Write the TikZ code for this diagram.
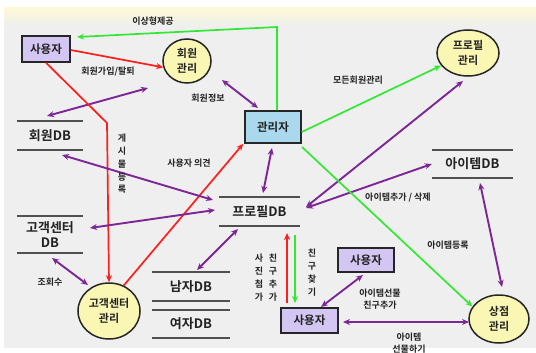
\documentclass[tikz,border=0pt]{standalone}
\usepackage{fontspec}
\setmainfont{Noto Sans CJK KR}[BoldFont={Noto Sans CJK KR Bold}]
\usetikzlibrary{shapes.geometric,arrows.meta}
\definecolor{bgc}{RGB}{239,239,239}
\definecolor{bandc}{RGB}{252,249,214}
\definecolor{pur}{RGB}{125,38,150}
\definecolor{rd}{RGB}{255,30,30}
\definecolor{gr}{RGB}{50,232,50}
\definecolor{lav}{RGB}{212,198,242}
\definecolor{yel}{RGB}{250,246,180}
\definecolor{admc}{RGB}{170,216,236}
\definecolor{txt}{RGB}{34,34,34}
\definecolor{dbl}{RGB}{80,80,80}
\tikzset{
  tip/.style={-{Stealth[length=7pt,width=6pt]}},
  dtip/.style={{Stealth[length=7pt,width=6pt]}-{Stealth[length=7pt,width=6pt]}},
  parrow/.style={draw=pur,line width=1.9pt,dtip},
  rarrow/.style={draw=rd,line width=1.7pt,tip},
  garrow/.style={draw=gr,line width=1.7pt,tip},
  userbox/.style={draw=black!85,line width=1.5pt,fill=lav,rectangle,font=\bfseries\fontsize{11.5}{14}\selectfont,text=txt},
  admbox/.style={draw=black!85,line width=1.5pt,fill=admc,rectangle,font=\bfseries\fontsize{11.5}{14}\selectfont,text=txt},
  proc/.style={draw=black!85,line width=1.5pt,fill=yel,ellipse,inner sep=0pt,align=center,font=\bfseries\fontsize{11}{15}\selectfont,text=txt},
  dbnode/.style={inner sep=0pt,align=center,font=\bfseries\fontsize{13}{15}\selectfont,text=txt},
  dbline/.style={draw=dbl,line width=1.5pt},
  lbl/.style={inner sep=0pt,align=center,font=\bfseries\fontsize{9}{12}\selectfont,text=txt},
  vlbl/.style={inner sep=0pt,align=center,font=\bfseries\fontsize{9}{12.8}\selectfont,text=txt,anchor=north},
}
\begin{document}
\begin{tikzpicture}[x=1pt,y=-1pt]
\useasboundingbox (0,0) rectangle (536,353);
\fill[white] (0,0) rectangle (536,353);
\fill[bgc] (4,8) rectangle (536,348);
\shade[top color=bandc,bottom color=bgc] (4,8) rectangle (536,26);

% nodes
\node[userbox,minimum width=48pt,minimum height=26pt] (u1) at (46,49) {사용자};
\node[proc,minimum width=48pt,minimum height=44pt] (hm) at (187,61) {회원\\관리};
\node[admbox,minimum width=56pt,minimum height=32pt] (adm) at (273,127) {관리자};
\node[proc,minimum width=62pt,minimum height=46pt] (pm) at (468,53) {프로필\\관리};
\node[dbnode,minimum width=66pt,minimum height=29pt] (mdb) at (50,135.5) {회원DB};
\node[dbnode,minimum width=66pt,minimum height=37pt] (gdb) at (50,234.5) {고객센터\\DB};
\node[dbnode,minimum width=81pt,minimum height=29pt] (pdb) at (259.5,211.5) {프로필DB};
\node[dbnode,minimum width=81pt,minimum height=28pt] (idb) at (472.5,164) {아이템DB};
\node[dbnode,minimum width=78pt,minimum height=29pt] (ndb) at (191,286.5) {남자DB};
\node[dbnode,minimum width=78pt,minimum height=28pt] (wdb) at (191,324) {여자DB};
\node[proc,minimum width=62pt,minimum height=56pt] (gm) at (109,311) {고객센터\\관리};
\node[proc,minimum width=60pt,minimum height=48pt] (sm) at (499,319) {상점\\관리};
\node[userbox,minimum width=56pt,minimum height=24pt] (u2) at (366,260) {사용자};
\node[userbox,minimum width=57pt,minimum height=25pt] (u3) at (309.5,320.5) {사용자};

% DB lines
\foreach \n in {mdb,gdb,pdb,idb,ndb,wdb}{
  \draw[dbline] (\n.north west) -- (\n.north east);
  \draw[dbline] (\n.south west) -- (\n.south east);
}

% free connector ends
\coordinate (gtop) at (277,27);
\coordinate (gend) at (77,37);
\coordinate (p3a) at (148,88);
\coordinate (p3b) at (47,116);
\coordinate (rbend) at (107,123);
\coordinate (p5a) at (222,80);
\coordinate (p5b) at (258,108);
\coordinate (p7a) at (306,207);
\coordinate (p7b) at (463,81);
\coordinate (p8a) at (306,208);
\coordinate (g9a) at (302,147);
\coordinate (p10a) at (480,183);
\coordinate (p10b) at (502,287);
\coordinate (p11a) at (272,148);
\coordinate (p11b) at (263,193);
\coordinate (p13a) at (62,155);
\coordinate (p13b) at (213,200);
\coordinate (p14a) at (90,228);
\coordinate (p14b) at (215,210);
\coordinate (p15a) at (52,258);
\coordinate (p15b) at (88,285);
\coordinate (p16a) at (197,270);
\coordinate (p16b) at (238,229);
\coordinate (r17a) at (287,303);
\coordinate (r17b) at (287,233);
\coordinate (g18a) at (295,235);
\coordinate (g18b) at (295,303);
\coordinate (p19a) at (363,275);
\coordinate (p19b) at (321,307);
\coordinate (p20a) at (343,322);
\coordinate (p20b) at (469,322);

% connectors
\draw[garrow] ([xshift=4pt]adm.north) -- (gtop) -- (gend);
\draw[rarrow] ([yshift=-1pt]u1.east) -- (hm.195);
\draw[parrow] (p3a) -- (p3b);
\draw[rarrow] (u1.south) -- (rbend) -- (gm.north);
\draw[parrow] (p5a) -- (p5b);
\draw[garrow] ([yshift=-5pt]adm.east) -- (pm.205);
\draw[parrow] (p7a) -- (p7b);
\draw[parrow] (p8a) -- (idb.west);
\draw[garrow] (g9a) -- (sm.155);
\draw[parrow] (p10a) -- (p10b);
\draw[parrow] (p11a) -- (p11b);
\draw[rarrow] (gm.60) -- ([xshift=-1pt]adm.south west);
\draw[parrow] (p13a) -- (p13b);
\draw[parrow] (p14a) -- (p14b);
\draw[parrow] (p15a) -- (p15b);
\draw[parrow] (p16a) -- (p16b);
\draw[rarrow] (r17a) -- (r17b);
\draw[garrow] (g18a) -- (g18b);
\draw[parrow] (p19a) -- (p19b);
\draw[parrow] (p20a) -- (p20b);

% labels
\node[lbl] (l1) at (153,21) {이상형제공};
\node[lbl] (l2) at (108,72) {회원가입/탈퇴};
\node[lbl] (l3) at (208,98) {회원정보};
\node[lbl] (l4) at (358,80) {모든회원관리};
\node[vlbl] (l5) at (122,134) {게\\시\\물\\등\\록};
\node[lbl] (l6) at (189,163) {사용자 의견};
\node[lbl] (l7) at (398,198) {아이템추가 / 삭제};
\node[lbl] (l8) at (448,245) {아이템등록};
\node[lbl] (l9) at (50,282) {조회수};
\node[vlbl] (l10) at (259,254) {사\\진\\첨\\가};
\node[vlbl] (l11) at (273,254) {친\\구\\추\\가};
\node[vlbl] (l12) at (312,249) {친\\구\\찾\\기};
\node[lbl] (l13) at (380,299) {아이템선물\\친구추가};
\node[lbl] (l14) at (409,343) {아이템\\선물하기};
\end{tikzpicture}
\end{document}
